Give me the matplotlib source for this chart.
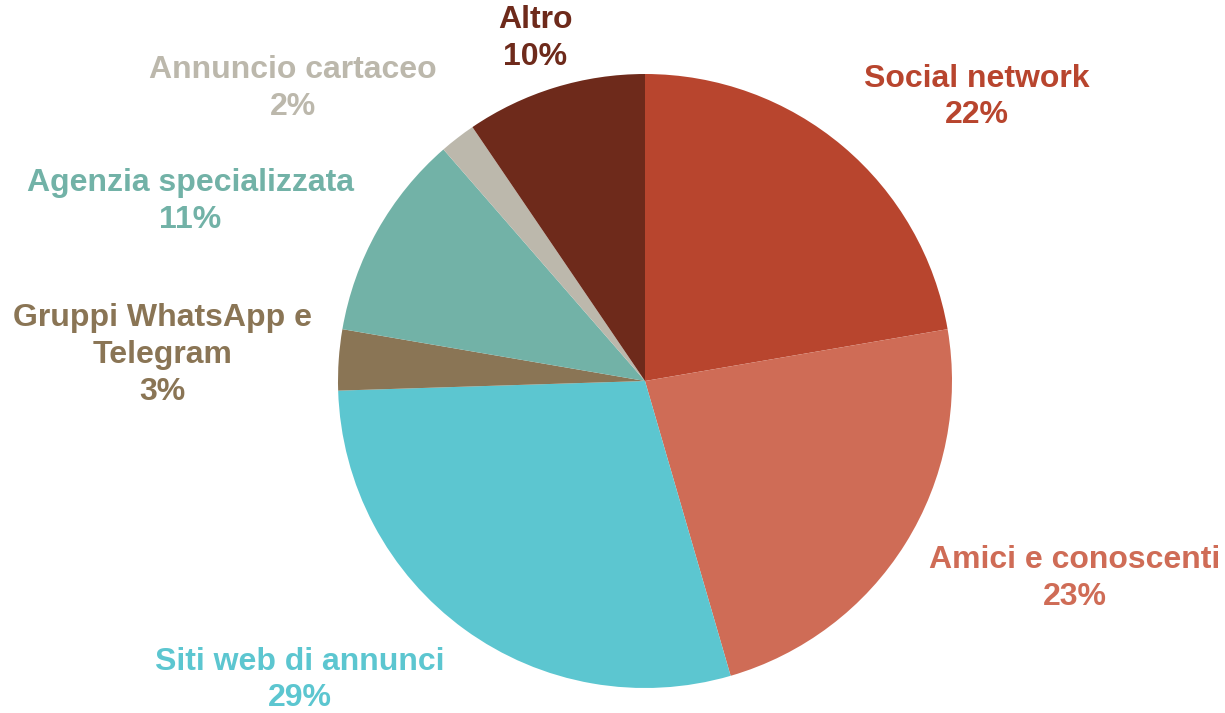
import numpy as np
import matplotlib.pyplot as plt

# dati
categorie = ['Social network', 'Amici e conoscenti', 'Siti web di annunci',
             'Gruppi WhatsApp e\nTelegram', 'Agenzia specializzata',
             'Annuncio cartaceo', 'Altro']
valori = [22.3, 23.2, 29.0, 3.2, 10.9, 1.9, 9.5]
colori = ['#B8452E', '#CF6C56', '#5CC6D0', '#8A7555', '#72B2A7', '#BCB8AC', '#6E2A1B']

# posizione etichette (in raggi del grafico)
pos_etichette = [(1.081, 0.925), (1.401, -0.642), (-1.124, -0.974),
                 (-1.573, 0.085), (-1.482, 0.586), (-1.147, 0.954), (-0.358, 1.117)]

W, H = 1225, 713
cx, cy, r = 645, 381, 307

fig = plt.figure(figsize=(W / 100, H / 100), dpi=100)
ax = fig.add_axes([(cx - r) / W, (H - cy - r) / H, 2 * r / W, 2 * r / H])

wedges, _ = ax.pie(valori, colors=colori, startangle=90, counterclock=False,
                   radius=1, wedgeprops=dict(linewidth=0))
ax.set_xlim(-1, 1)
ax.set_ylim(-1, 1)
ax.set_aspect('equal')
ax.axis('off')

tot = sum(valori)
for nome, v, col, (x, y) in zip(categorie, valori, colori, pos_etichette):
    pct = int(v / tot * 100 + 0.5)
    ax.text(x, y, f'{nome}\n{pct}%', color=col, ha='center', va='center',
            fontsize=23, fontweight='bold', family=['Liberation Sans', 'DejaVu Sans'],
            linespacing=1.3, clip_on=False)

fig.savefig('out.png', dpi=100)
